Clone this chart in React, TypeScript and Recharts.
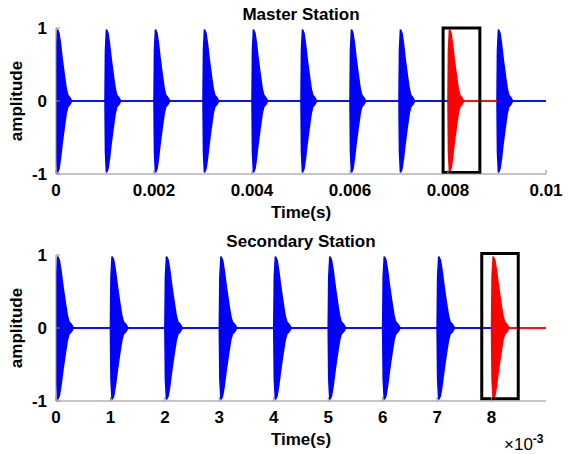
import React from 'react';
import { ComposedChart, Area, XAxis, YAxis, ReferenceArea, Label } from 'recharts';

// envelope of one burst: time after the burst start (s) and amplitude
const burstOffsets = [0, 0.00001, 0.00003, 0.00006, 0.00009, 0.00012, 0.00015, 0.00018, 0.00021, 0.00024, 0.00028, 0.00032];
const burstEnvelope = [0, 0.7, 0.98, 0.93, 0.79, 0.61, 0.45, 0.3, 0.16, 0.08, 0.05, 0];

// burst start times for each station
const masterBursts = [0, 0.001, 0.002, 0.003, 0.004, 0.005, 0.006, 0.007, 0.008, 0.009];
const secondaryBursts = [0, 0.001, 0.002, 0.003, 0.004, 0.005, 0.006, 0.007, 0.008];

// highlighted window [start, end] drawn in red
const masterHighlight = [0.008, 0.009];
const secondaryHighlight = [0.008, 0.009];

const masterTicks = [0, 0.002, 0.004, 0.006, 0.008, 0.01];
const secondaryTicks = [0, 0.001, 0.002, 0.003, 0.004, 0.005, 0.006, 0.007, 0.008];
const amplitudeTicks = [-1, 0, 1];

type Row = { t: number; blue: [number, number] | null; red: [number, number] | null };

function buildRows(bursts: number[], highlight: number[], end: number): Row[] {
  const pts: { t: number; a: number }[] = [];
  bursts.forEach((b) => {
    burstOffsets.forEach((o, i) => pts.push({ t: b + o, a: burstEnvelope[i] }));
  });
  pts.push({ t: end, a: 0 });
  const [h0, h1] = highlight;
  const eps = 1e-9;
  return pts.map(({ t, a }) => {
    const v: [number, number] = [-a, a];
    const inRed = t >= h0 - eps && t <= h1 + eps;
    const inBlue = t <= h0 + eps || t >= h1 - eps;
    return { t, blue: inBlue ? v : null, red: inRed ? v : null };
  });
}

const masterRows = buildRows(masterBursts, masterHighlight, 0.01);
const secondaryRows = buildRows(secondaryBursts, secondaryHighlight, 0.009);

const FONT = '"Liberation Sans", Arial, sans-serif';
const tickStyle = { fill: '#000', fontSize: 17, fontWeight: 700, fontFamily: FONT };
const labelStyle = { fill: '#000', fontSize: 17, fontWeight: 700, fontFamily: FONT };

const W = 569;
const H = 227;

interface PanelProps {
  rows: Row[];
  domainEnd: number;
  ticks: number[];
  fmt: (v: number) => string;
  box: [number, number, number, number];
}

const Panel: React.FC<PanelProps> = ({ rows, domainEnd, ticks, fmt, box }) => (
  <ComposedChart width={W} height={H} data={rows} margin={{ top: 28, right: 23, left: 0, bottom: 3 }}>
    <XAxis
      dataKey="t"
      type="number"
      domain={[0, domainEnd]}
      ticks={ticks}
      tickFormatter={fmt}
      tick={tickStyle}
      stroke="#8c8c8c"
      height={50}
      tickSize={-4}
      tickMargin={14}
      allowDataOverflow
    />
    <YAxis
      type="number"
      domain={[-1, 1]}
      ticks={amplitudeTicks}
      tick={tickStyle}
      stroke="#8c8c8c"
      width={56}
      tickSize={-4}
      tickMargin={13}
    >
      <Label value="amplitude" angle={-90} position="insideLeft" offset={16} style={{ ...labelStyle, textAnchor: 'middle' }} />
    </YAxis>
    <Area
      dataKey="blue"
      type="linear"
      stroke="#0000ff"
      strokeWidth={1.6}
      fill="#0000ff"
      fillOpacity={1}
      dot={false}
      activeDot={false}
      isAnimationActive={false}
    />
    <Area
      dataKey="red"
      type="linear"
      stroke="#ff0000"
      strokeWidth={1.6}
      fill="#ff0000"
      fillOpacity={1}
      dot={false}
      activeDot={false}
      isAnimationActive={false}
    />
    <ReferenceArea
      x1={box[0]}
      x2={box[1]}
      y1={box[2]}
      y2={box[3]}
      ifOverflow="visible"
      fill="none"
      stroke="#000"
      strokeWidth={3}
    />
  </ComposedChart>
);

const textStyle: React.CSSProperties = {
  position: 'absolute',
  left: 56,
  width: 490,
  textAlign: 'center',
  fontFamily: FONT,
  fontWeight: 700,
  fontSize: 17,
  color: '#000',
  lineHeight: '18px',
};

export default function App() {
  return (
    <div style={{ position: 'absolute', left: 0, top: 0, width: W, height: 454, background: '#fff' }}>
      <div style={{ position: 'absolute', left: 0, top: 0 }}>
        <Panel
          rows={masterRows}
          domainEnd={0.01}
          ticks={masterTicks}
          fmt={(v) => String(v)}
          box={[0.0079, 0.00865, -0.98, 1]}
        />
      </div>
      <div style={{ position: 'absolute', left: 0, top: 227 }}>
        <Panel
          rows={secondaryRows}
          domainEnd={0.009}
          ticks={secondaryTicks}
          fmt={(v) => String(Math.round(v * 1000))}
          box={[0.00782, 0.00849, -0.97, 1.02]}
        />
      </div>
      <div style={{ ...textStyle, top: 6 }}>Master Station</div>
      <div style={{ ...textStyle, top: 204 }}>Time(s)</div>
      <div style={{ ...textStyle, top: 233 }}>Secondary Station</div>
      <div style={{ ...textStyle, top: 431 }}>Time(s)</div>
      <div style={{ position: 'absolute', left: 504, top: 432, fontFamily: FONT, fontSize: 17, color: '#000' }}>
        ×10<sup style={{ fontSize: 12, fontWeight: 700 }}>-3</sup>
      </div>
    </div>
  );
}
